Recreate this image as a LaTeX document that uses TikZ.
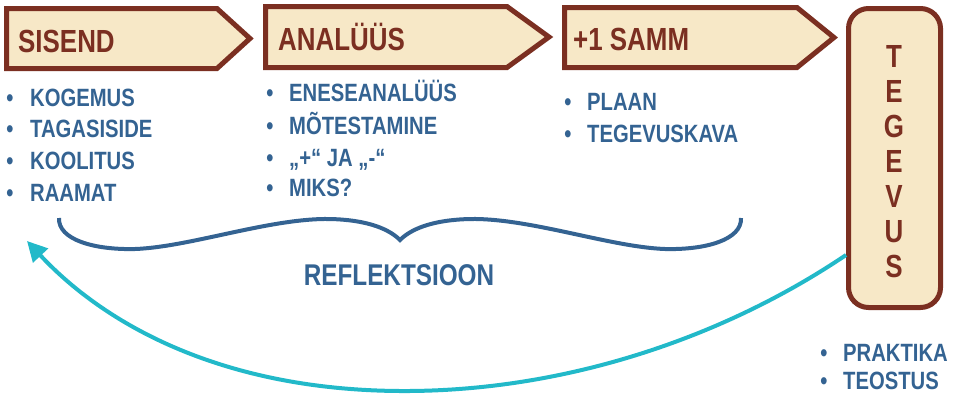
\documentclass[tikz,border=0pt]{standalone}
\usepackage{fontspec}
\setmainfont{Liberation Sans}[FakeStretch=0.81]
\usetikzlibrary{arrows.meta}
\definecolor{brn}{HTML}{7B2F21}
\definecolor{crm}{HTML}{F7E8C7}
\definecolor{blu}{HTML}{346392}
\definecolor{cyn}{HTML}{22B9C9}
\tikzset{
  x=1pt, y=-1pt,
  arrowbox/.style={draw=brn, fill=crm, line width=5pt, line join=miter},
  head/.style={text=brn, font=\bfseries\fontsize{32}{32}\selectfont, anchor=base west, inner sep=0pt},
  letter/.style={text=brn, font=\bfseries\fontsize{32}{32}\selectfont, anchor=base, inner sep=0pt},
  item/.style={text=blu, font=\bfseries\fontsize{25}{25}\selectfont, anchor=base west, inner sep=0pt},
  bul/.style={text=blu, font=\bfseries\fontsize{25}{25}\selectfont, anchor=base, inner sep=0pt},
  refl/.style={text=blu, font=\bfseries\fontsize{30}{30}\selectfont, anchor=base, inner sep=0pt},
}
\begin{document}
\begin{tikzpicture}
\useasboundingbox (0,0) rectangle (960,394);
% arrow-shaped boxes
\draw[arrowbox] (6.5,8.5) -- (217,8.5) -- (250,38.5) -- (217,68.5) -- (6.5,68.5) -- cycle;
\draw[arrowbox] (265.5,6.5) -- (507,6.5) -- (549,37) -- (507,67.5) -- (265.5,67.5) -- cycle;
\draw[arrowbox] (564.5,7.5) -- (797,7.5) -- (834,37.5) -- (797,67.5) -- (564.5,67.5) -- cycle;
\node[draw=brn, fill=crm, line width=5pt, rounded corners=20pt, minimum width=92pt, minimum height=299pt, inner sep=0pt] (teg) at (894.5,158) {};
% headings
\node[head] (h1) at (18,52) {SISEND};
\node[head] (h2) at (278,50) {ANALÜÜS};
\node[head] (h3) at (573,50) {+1 SAMM};
% vertical TEGEVUS
\node[letter] (t1) at (894,67) {T};
\node[letter] (t2) at (894,102) {E};
\node[letter] (t3) at (894,137) {G};
\node[letter] (t4) at (894,172) {E};
\node[letter] (t5) at (894,207) {V};
\node[letter] (t6) at (894,242) {U};
\node[letter] (t7) at (894,277) {S};
% list SISEND
\node[bul] (b11) at (10,106) {•}; \node[item] (i11) at (30,106) {KOGEMUS};
\node[bul] (b12) at (10,137) {•}; \node[item] (i12) at (30,137) {TAGASISIDE};
\node[bul] (b13) at (10,169) {•}; \node[item] (i13) at (30,169) {KOOLITUS};
\node[bul] (b14) at (10,201) {•}; \node[item] (i14) at (30,201) {RAAMAT};
% list ANALÜÜS
\node[bul] (b21) at (270,101) {•}; \node[item] (i21) at (289,101) {ENESEANALÜÜS};
\node[bul] (b22) at (270,134) {•}; \node[item] (i22) at (289,134) {MÕTESTAMINE};
\node[bul] (b23) at (270,166) {•}; \node[item] (i23) at (289,166) {„+“ JA „-“};
\node[bul] (b24) at (270,196) {•}; \node[item] (i24) at (289,196) {MIKS?};
% list +1 SAMM
\node[bul] (b31) at (568,110) {•}; \node[item] (i31) at (587,110) {PLAAN};
\node[bul] (b32) at (568,142) {•}; \node[item] (i32) at (587,142) {TEGEVUSKAVA};
% list TEGEVUS
\node[bul] (b41) at (824,361) {•}; \node[item] (i41) at (843,361) {PRAKTIKA};
\node[bul] (b42) at (824,389) {•}; \node[item] (i42) at (843,389) {TEOSTUS};
% brace
\draw[blu, line width=4pt]
  (59,218) .. controls (58,240) and (95,250) .. (135,249)
  .. controls (190,247) and (270,218) .. (330,219)
  .. controls (370,220) and (390,230) .. (400,240)
  .. controls (410,230) and (430,220) .. (470,219)
  .. controls (530,218) and (610,247) .. (665,249)
  .. controls (705,250) and (742,240) .. (741,218);
\node[refl] (rf) at (399,285) {REFLEKTSIOON};
% cyan return arrow
\coordinate (aS) at (teg.west |- 0,255);
\coordinate (aB) at (400,391);
\coordinate (aE) at (27,241);
\draw[cyn, line width=4pt, -{Triangle[length=20pt,width=20pt]}]
  (aS) .. controls (720,340) and (560,392) .. (aB)
  .. controls (230,390) and (110,330) .. (aE);
\end{tikzpicture}
\end{document}
